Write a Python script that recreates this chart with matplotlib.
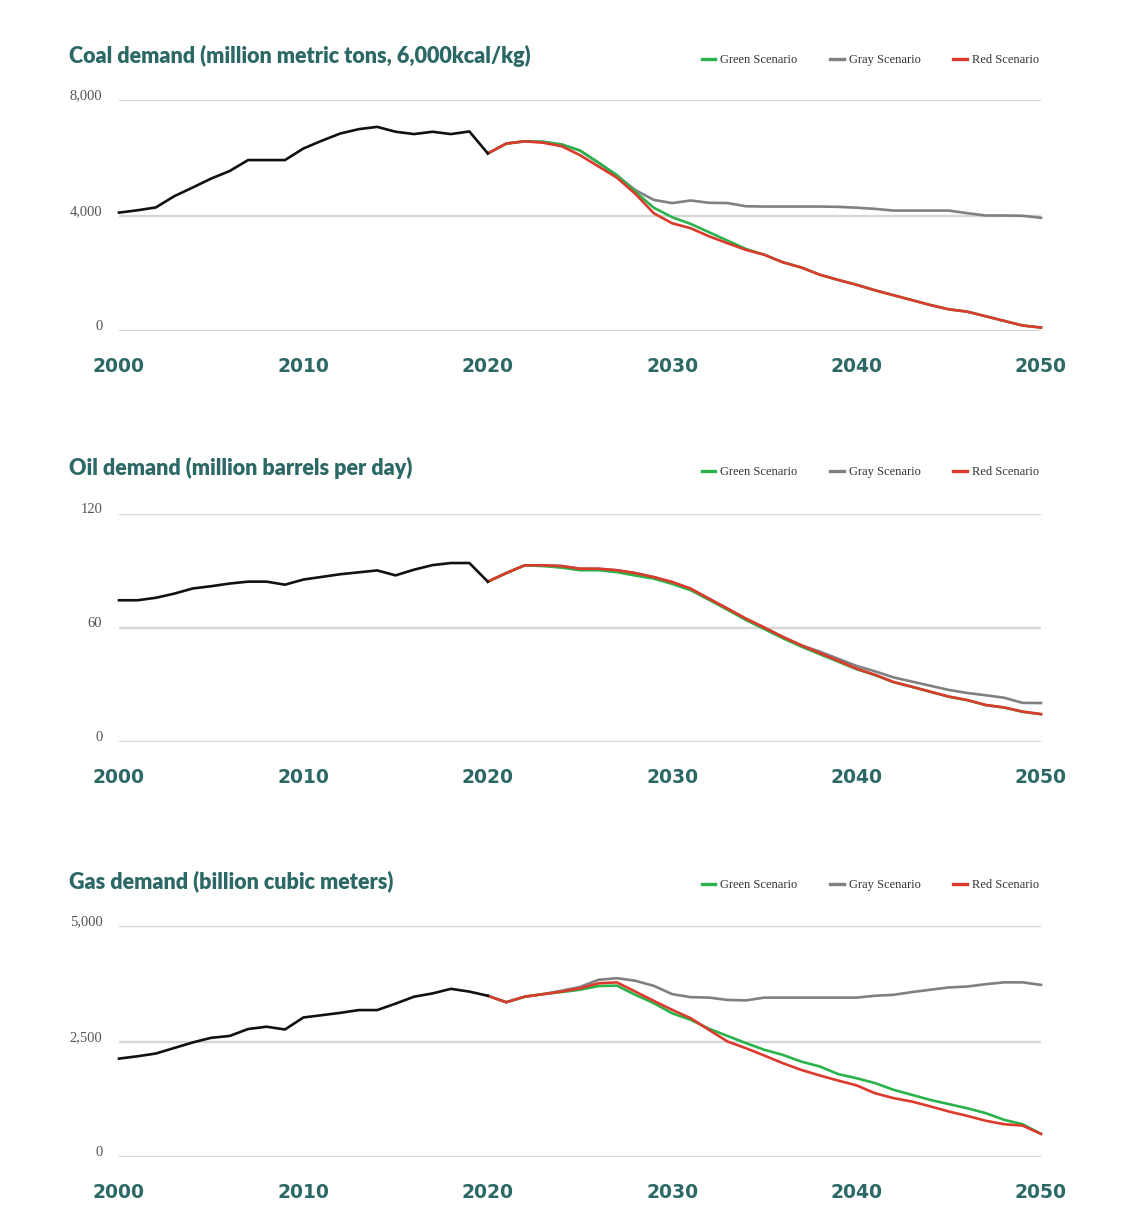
import numpy as np
import matplotlib
matplotlib.use('Agg')
import matplotlib.pyplot as plt
from matplotlib.transforms import ScaledTranslation

# ---- data ----
hist_years = list(range(2000, 2021))
scen_years = list(range(2020, 2051))

coal_hist = [4100, 4180, 4280, 4670, 4970, 5280, 5540, 5920, 5920, 5920, 6320,
             6590, 6840, 6990, 7070, 6900, 6820, 6900, 6820, 6910, 6150]
coal_green = [6150, 6490, 6570, 6550, 6460, 6250, 5830, 5400, 4820, 4270, 3940,
              3710, 3420, 3130, 2840, 2640, 2380, 2200, 1950, 1770, 1600,
              1410, 1240, 1070, 900, 750, 670, 510, 350, 190, 120]
coal_gray = [6150, 6490, 6570, 6550, 6460, 6250, 5830, 5380, 4880, 4540, 4430,
             4520, 4440, 4430, 4320, 4310, 4310, 4310, 4310, 4300, 4270,
             4230, 4170, 4170, 4170, 4170, 4080, 4000, 4000, 3990, 3920]
coal_red = [6150, 6490, 6570, 6520, 6400, 6090, 5700, 5310, 4750, 4080, 3730,
            3560, 3280, 3040, 2810, 2640, 2380, 2200, 1950, 1770, 1600,
            1410, 1240, 1070, 900, 750, 670, 510, 350, 190, 120]

oil_hist = [74.6, 74.6, 75.9, 78.1, 80.8, 82.0, 83.4, 84.4, 84.4, 82.8, 85.5,
            86.9, 88.3, 89.3, 90.3, 87.7, 90.7, 93.1, 94.2, 94.2, 84.4]
oil_green = [84.4, 88.9, 93.0, 92.6, 91.8, 90.4, 90.4, 89.4, 87.6, 86.0, 83.2,
             79.9, 74.8, 69.6, 64.2, 59.4, 54.6, 50.2, 46.2, 42.3, 38.3,
             35.2, 31.5, 29.0, 26.4, 23.8, 22.0, 19.4, 18.1, 15.9, 14.6]
oil_gray = [84.4, 88.9, 93.0, 93.0, 92.6, 91.2, 91.2, 90.4, 88.9, 86.8, 84.2,
            80.7, 75.4, 70.2, 64.9, 60.2, 55.3, 50.9, 47.6, 43.8, 40.0,
            37.2, 34.0, 31.8, 29.6, 27.4, 25.8, 24.6, 23.3, 20.6, 20.5]
oil_red = [84.4, 88.9, 93.0, 93.0, 92.6, 91.2, 91.2, 90.4, 88.9, 86.8, 84.2,
           80.7, 75.4, 70.2, 64.9, 60.2, 55.3, 50.9, 46.8, 42.8, 38.6,
           35.4, 31.6, 29.1, 26.5, 23.9, 22.1, 19.5, 18.2, 16.0, 14.7]

gas_hist = [2130, 2180, 2240, 2360, 2480, 2580, 2620, 2770, 2820, 2760, 3020,
            3070, 3120, 3180, 3180, 3320, 3470, 3540, 3640, 3580, 3490]
gas_green = [3490, 3350, 3470, 3525, 3570, 3620, 3700, 3710, 3510, 3330, 3110,
             2970, 2775, 2620, 2465, 2320, 2210, 2065, 1960, 1795, 1705,
             1600, 1455, 1345, 1235, 1145, 1055, 950, 805, 710, 500]
gas_gray = [3490, 3350, 3470, 3525, 3600, 3680, 3835, 3870, 3815, 3705, 3525,
            3460, 3450, 3400, 3390, 3450, 3450, 3450, 3450, 3450, 3450,
            3490, 3510, 3570, 3620, 3670, 3690, 3740, 3780, 3780, 3725]
gas_red = [3490, 3350, 3470, 3525, 3580, 3650, 3760, 3780, 3580, 3380, 3185,
           3005, 2750, 2500, 2355, 2195, 2030, 1885, 1765, 1655, 1550,
           1380, 1275, 1200, 1095, 985, 890, 785, 710, 680, 500]

titles = ["Coal demand (million metric tons, 6,000kcal/kg)",
          "Oil demand (million barrels per day)",
          "Gas demand (billion cubic meters)"]
coal_ticks = [0, 4000, 8000]
oil_ticks = [0, 60, 120]
gas_ticks = [0, 2500, 5000]
coal_ticklabels = ["0", "4,000", "8,000"]
oil_ticklabels = ["0", "60", "120"]
gas_ticklabels = ["0", "2,500", "5,000"]
x_ticks = [2000, 2010, 2020, 2030, 2040, 2050]

# ---- style ----
TEAL = '#2c6866'
GREEN = '#2bb34b'
GRAY = '#808080'
RED = '#dc3a2c'
BLACK = '#111111'
GRID = '#d6d6d6'

W, H = 1143, 1232
fig = plt.figure(figsize=(W / 100, H / 100), dpi=100)

panels = [
    (coal_hist, coal_green, coal_gray, coal_red, coal_ticks, coal_ticklabels),
    (oil_hist, oil_green, oil_gray, oil_red, oil_ticks, oil_ticklabels),
    (gas_hist, gas_green, gas_gray, gas_red, gas_ticks, gas_ticklabels),
]
# pixel rows: (top gridline y, bottom gridline y, title y)
rows = [(100, 331, 56), (514, 742, 468), (926, 1157, 881)]

x_left, x_right = 119, 1041

for (hist, green, gray, red, yt, ytl), (ytop, ybot, ty), title in zip(panels, rows, titles):
    ax = fig.add_axes([x_left / W, 1 - ybot / H, (x_right - x_left) / W, (ybot - ytop) / H])
    lw = 1.9
    ax.plot(scen_years, gray, color=GRAY, lw=lw, label='Gray Scenario', zorder=3, clip_on=False)
    ax.plot(scen_years, green, color=GREEN, lw=lw, label='Green Scenario', zorder=4, clip_on=False)
    ax.plot(scen_years, red, color=RED, lw=lw, label='Red Scenario', zorder=5, clip_on=False)
    ax.plot(hist_years, hist, color=BLACK, lw=lw, zorder=6, clip_on=False)

    ax.set_xlim(2000, 2050)
    ax.set_ylim(yt[0], yt[-1])
    ax.set_yticks(yt)
    ax.set_yticklabels(ytl, fontsize=10.5, color='#555555', family='Liberation Serif')
    ax.set_xticks(x_ticks)
    ax.set_xticklabels([str(t) for t in x_ticks], fontsize=13.5, fontweight='bold',
                       color=TEAL, family='DejaVu Sans')
    ax.tick_params(axis='y', length=0, pad=12)
    ax.tick_params(axis='x', length=0, pad=19)
    off = ScaledTranslation(0, 4 / 72, fig.dpi_scale_trans)
    for lab in ax.get_yticklabels():
        lab.set_transform(lab.get_transform() + off)
    for s in ax.spines.values():
        s.set_visible(False)
    ax.grid(axis='y', color=GRID, lw=1.7)
    ax.set_axisbelow(True)

    handles, labels = ax.get_legend_handles_labels()
    order = [1, 0, 2]
    leg = ax.legend([handles[i] for i in order], [labels[i] for i in order],
                    ncol=3, loc='center right',
                    bbox_to_anchor=(0.998, (ybot - (ty + 4)) / (ybot - ytop)),
                    frameon=False, handlelength=1.1, handletextpad=0.4,
                    columnspacing=2.6, borderaxespad=0, borderpad=0,
                    prop={'family': 'Liberation Serif', 'size': 9})
    for t in leg.get_texts():
        t.set_color('#333333')
    for h in leg.get_lines():
        h.set_linewidth(2.4)

    fig.text(69 / W, 1 - ty / H, title, fontsize=15.5, fontweight='heavy',
             color=TEAL, family='Lato', va='center', ha='left')

fig.savefig('out.png', dpi=100, facecolor='white')
